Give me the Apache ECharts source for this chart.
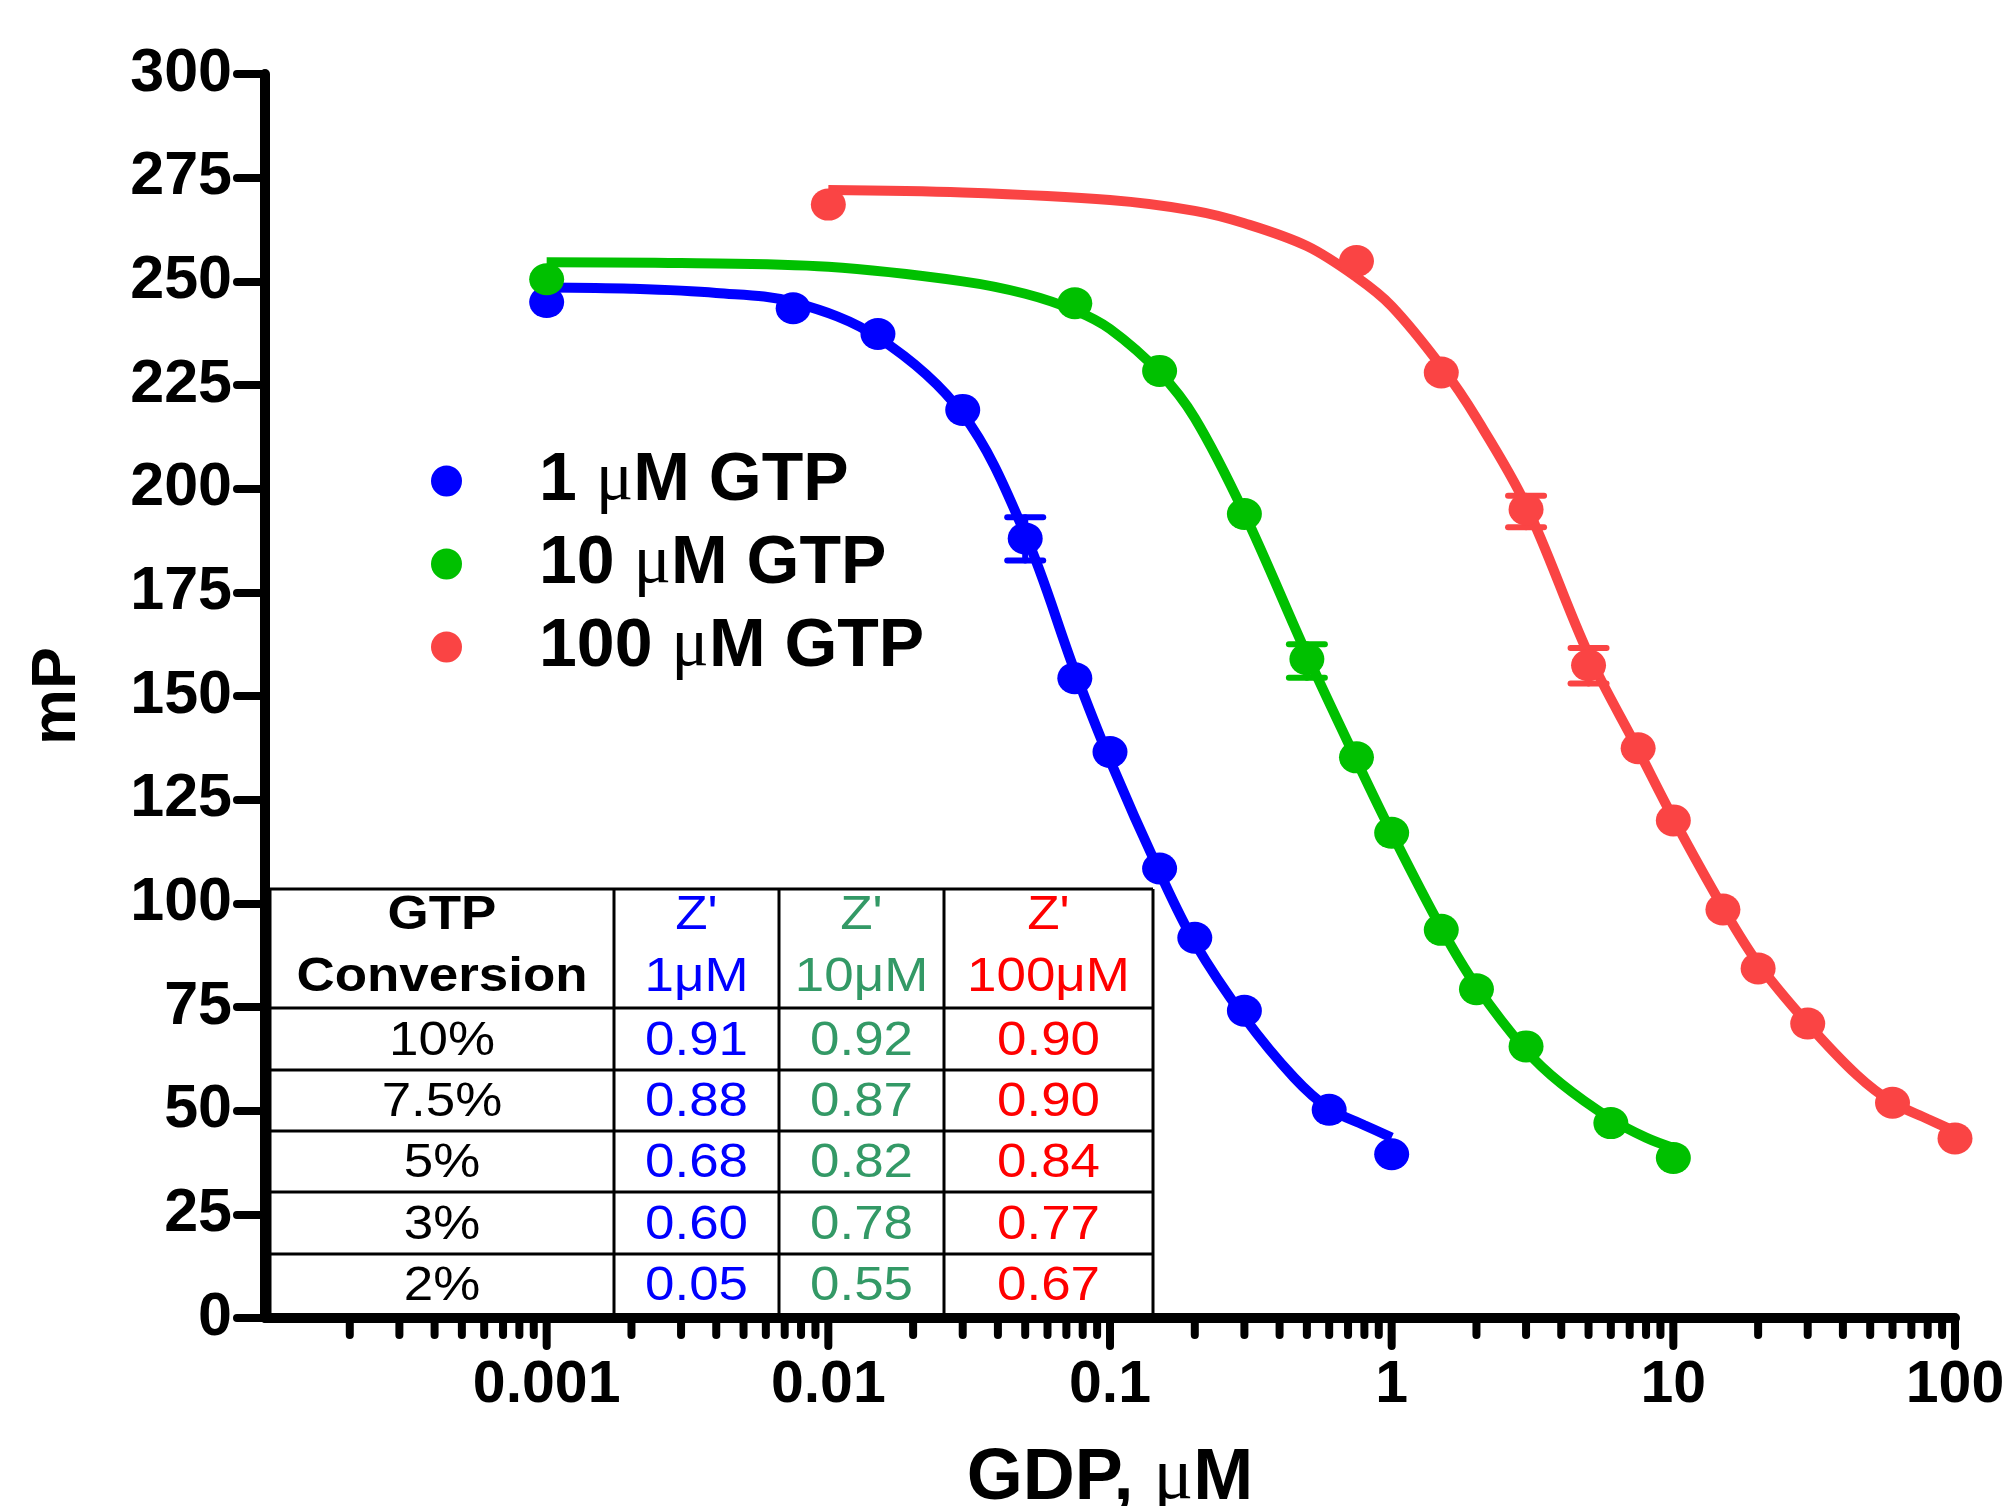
<!DOCTYPE html>
<html>
<head>
<meta charset="utf-8">
<script src="https://cdn.jsdelivr.net/npm/echarts@6/dist/echarts.min.js"></script>
<style>
  html, body { margin: 0; padding: 0; background: #fff; }
  #main { width: 2006px; height: 1506px; }
</style>
</head>
<body>
<div id="main"></div>
<script>
// ---- data ----
const seriesNames = ['1 μM GTP', '10 μM GTP', '100 μM GTP'];

// measured points
const blueX = [0.001, 0.0075, 0.015, 0.03, 0.05, 0.075, 0.1, 0.15, 0.2, 0.3, 0.6, 1];
const blueY = [245, 243.5, 237.3, 219, 188, 154.3, 136.5, 108.4, 91.7, 74.1, 50.2, 39.5];
const greenX = [0.001, 0.075, 0.15, 0.3, 0.5, 0.75, 1, 1.5, 2, 3, 6, 10];
const greenY = [250.5, 244.7, 228.4, 193.9, 158.9, 135.2, 117, 93.6, 79.3, 65.5, 47, 38.6];
const redX = [0.01, 0.75, 1.5, 3, 5, 7.5, 10, 15, 20, 30, 60, 100];
const redY = [268.5, 254.9, 228, 195, 157.4, 137.4, 120, 98.5, 84.3, 71, 51.9, 43.3];

// fitted curves
const blueFitX = [0.001, 0.002, 0.004, 0.0075, 0.015, 0.03, 0.05, 0.075, 0.1, 0.15, 0.2, 0.3, 0.45, 0.6, 0.8, 1];
const blueFitY = [248.5, 248.2, 247.2, 245, 236.5, 218, 189, 156, 134.5, 107.5, 90.5, 72.5, 58, 50.5, 46.5, 43.5];
const greenFitX = [0.001, 0.003, 0.01, 0.03, 0.05, 0.075, 0.1, 0.15, 0.2, 0.3, 0.5, 0.75, 1, 1.5, 2, 3, 4, 6, 8, 10];
const greenFitY = [254.6, 254.4, 253.5, 250, 247, 243, 238.5, 228, 217, 194, 160, 134.5, 117, 94, 80, 64.5, 56.5, 48, 43.5, 41];
const redFitX = [0.01, 0.03, 0.1, 0.2, 0.3, 0.5, 0.75, 1, 1.5, 2, 3, 5, 7.5, 10, 15, 20, 30, 45, 60, 80, 100];
const redFitY = [272, 271.4, 269.6, 267, 264, 258.5, 251, 244, 229.5, 217, 196, 160, 137, 120.5, 99, 85.5, 71, 58.5, 52, 48, 45];

// error bars: [x, low, high]
const blueErr = [[0.05, 182.7, 193.1]];
const greenErr = [[0.5, 154.4, 162.5]];
const redErr = [[3, 190.7, 198.3], [5, 153.0, 161.6]];

// axis ticks
const yTickInterval = 25;
const xTickValues = [0.001, 0.01, 0.1, 1, 10, 100];
const xTickLabels = ['0.001', '0.01', '0.1', '1', '10', '100'];
const xDecades = [0.0001, 0.001, 0.01, 0.1, 1, 10];
const minorSteps = [2, 3, 4, 5, 6, 7, 8, 9];

// Z' table
const tableHead = ['GTP', "Z'", "Z'", "Z'"];
const tableHead2 = ['Conversion', '1μM', '10μM', '100μM'];
const conversion = ['10%', '7.5%', '5%', '3%', '2%'];
const z1uM = ['0.91', '0.88', '0.68', '0.60', '0.05'];
const z10uM = ['0.92', '0.87', '0.82', '0.78', '0.55'];
const z100uM = ['0.90', '0.90', '0.84', '0.77', '0.67'];

// ---- styles ----
const FONT = '"Liberation Sans", Arial, sans-serif';
const MU_FONT = '"Liberation Serif", "DejaVu Serif", serif';
const curveColors = ['#0000ff', '#00c000', '#fa4444'];
const textColors = ['#000000', '#0000ff', '#339966', '#ff0000'];
// slightly wide ellipse, like the markers in the figure
const DOT = 'path://M0,50A50,50,0,1,1,100,50A50,50,0,1,1,0,50Z';

function zip(xs, ys) { return xs.map((x, i) => [x, ys[i]]); }

// tick marks under the x axis (minor ticks at 2..9 of every decade)
const xTickData = [];
xDecades.forEach(d => minorSteps.forEach(m => xTickData.push([d * m, 0, 0])));
xTickValues.forEach(v => xTickData.push([v, 0, 1]));

function errRender(color) {
  return function (params, api) {
    const x = api.value(0);
    const lo = api.coord([x, api.value(1)]);
    const hi = api.coord([x, api.value(2)]);
    const hw = 18;
    const st = { stroke: color, lineWidth: 6, lineCap: 'round' };
    return {
      type: 'group',
      children: [
        { type: 'line', shape: { x1: lo[0], y1: lo[1], x2: hi[0], y2: hi[1] }, style: st },
        { type: 'line', shape: { x1: lo[0] - hw, y1: lo[1], x2: lo[0] + hw, y2: lo[1] }, style: st },
        { type: 'line', shape: { x1: hi[0] - hw, y1: hi[1], x2: hi[0] + hw, y2: hi[1] }, style: st }
      ]
    };
  };
}

// table layout (pixels)
const colEdges = [270, 614, 779, 944, 1153];
const rowEdges = [889, 1008, 1070, 1131, 1192, 1254, 1315];

function cellText(x, y, text, color, weight, size) {
  return { type: 'text', x: x, y: y, scaleX: 1.08, style: {
    text: text, fill: color, font: weight + ' ' + size + 'px ' + FONT, align: 'center', verticalAlign: 'middle' } };
}

function buildTable() {
  const els = [];
  const ls = { stroke: '#000', lineWidth: 3 };
  rowEdges.forEach(y => els.push({ type: 'line', shape: { x1: colEdges[0], y1: y, x2: colEdges[4], y2: y }, style: ls }));
  colEdges.forEach(x => els.push({ type: 'line', shape: { x1: x, y1: rowEdges[0], x2: x, y2: rowEdges[6] }, style: ls }));
  const cols = [conversion, z1uM, z10uM, z100uM];
  for (let c = 0; c < 4; c++) {
    const cx = (colEdges[c] + colEdges[c + 1]) / 2;
    const w = c === 0 ? 'bold' : 'normal';
    els.push(cellText(cx, rowEdges[0] + 26, tableHead[c], textColors[c], w, 49));
    els.push(cellText(cx, rowEdges[0] + 88, tableHead2[c], textColors[c], w, 49));
    for (let r = 0; r < 5; r++) {
      const cy = (rowEdges[r + 1] + rowEdges[r + 2]) / 2 + 2;
      els.push(cellText(cx, cy, cols[c][r], textColors[c], 'normal', 49));
    }
  }
  return els;
}

const chart = echarts.init(document.getElementById('main'), null, { renderer: 'canvas' });

const fitData = [zip(blueFitX, blueFitY), zip(greenFitX, greenFitY), zip(redFitX, redFitY)];
const ptData = [zip(blueX, blueY), zip(greenX, greenY), zip(redX, redY)];
const errData = [blueErr, greenErr, redErr];

const series = [];
for (let i = 0; i < 3; i++) {
  series.push({
    name: seriesNames[i] + ' fit', type: 'line', data: fitData[i], showSymbol: false, smooth: 0.35,
    lineStyle: { color: curveColors[i], width: 10 }, itemStyle: { color: curveColors[i] }, z: 2, silent: true
  });
}
for (let i = 0; i < 3; i++) {
  series.push({
    name: seriesNames[i], type: 'custom', renderItem: errRender(curveColors[i]), data: errData[i],
    encode: { x: 0, y: [1, 2] }, itemStyle: { color: curveColors[i] }, z: 3, silent: true
  });
}
for (let i = 0; i < 3; i++) {
  series.push({
    name: seriesNames[i], type: 'scatter', data: ptData[i], symbol: DOT, symbolSize: [35, 32],
    itemStyle: { color: curveColors[i], opacity: 1 }, z: 4, silent: true
  });
}
series.push({
  type: 'custom', name: 'xticks', data: xTickData, encode: { x: 0, y: 1 }, clip: false, silent: true, z: 5,
  renderItem: function (params, api) {
    const p = api.coord([api.value(0), 0]);
    const len = api.value(2) ? 28 : 17;
    return { type: 'line', shape: { x1: p[0], y1: p[1] + 3, x2: p[0], y2: p[1] + len },
      style: { stroke: '#000', lineWidth: 8, lineCap: 'round' } };
  }
});

chart.setOption({
  animation: false,
  backgroundColor: '#fff',
  grid: { left: 265, right: 51, top: 74, bottom: 188, containLabel: false, outerBoundsMode: 'none' },
  legend: {
    orient: 'vertical', left: 426, top: 441, icon: DOT, itemWidth: 35, itemHeight: 31, itemGap: 13,
    data: seriesNames, selectedMode: false,
    formatter: n => n.replace('μ', '{mu|μ}'),
    textStyle: {
      fontFamily: FONT, fontWeight: 'bold', fontSize: 68, color: '#000', lineHeight: 67, padding: [0, 0, 0, 70],
      rich: { mu: { fontFamily: MU_FONT, fontWeight: 'normal', fontSize: 70, color: '#000', lineHeight: 67 } }
    }
  },
  xAxis: {
    type: 'log', logBase: 10, min: 0.0001, max: 100,
    name: 'GDP, {mu|μ}M', nameLocation: 'middle', nameGap: 124,
    nameTextStyle: { fontFamily: FONT, fontWeight: 'bold', fontSize: 72, color: '#000',
      rich: { mu: { fontFamily: MU_FONT, fontWeight: 'normal', fontSize: 74, color: '#000' } } },
    axisLine: { lineStyle: { color: '#000', width: 10, cap: 'round' } },
    axisTick: { show: false },
    minorTick: { show: false },
    splitLine: { show: false },
    axisLabel: {
      margin: 38, color: '#000', fontFamily: FONT, fontWeight: 'bold', fontSize: 59,
      formatter: v => {
        const i = xTickValues.findIndex(t => Math.abs(Math.log10(t) - Math.log10(v)) < 1e-6);
        return i >= 0 ? xTickLabels[i] : '';
      }
    }
  },
  yAxis: {
    type: 'value', min: 0, max: 300, interval: yTickInterval,
    name: 'mP', nameLocation: 'middle', nameGap: 176, nameRotate: 90,
    nameTextStyle: { fontFamily: FONT, fontWeight: 'bold', fontSize: 63, color: '#000' },
    axisLine: { show: true, lineStyle: { color: '#000', width: 10, cap: 'round' } },
    axisTick: { show: true, length: 28, lineStyle: { color: '#000', width: 8, cap: 'round' } },
    splitLine: { show: false },
    axisLabel: { margin: 33, color: '#000', fontFamily: FONT, fontWeight: 'bold', fontSize: 61 }
  },
  graphic: buildTable(),
  series: series
});
</script>
</body>
</html>
